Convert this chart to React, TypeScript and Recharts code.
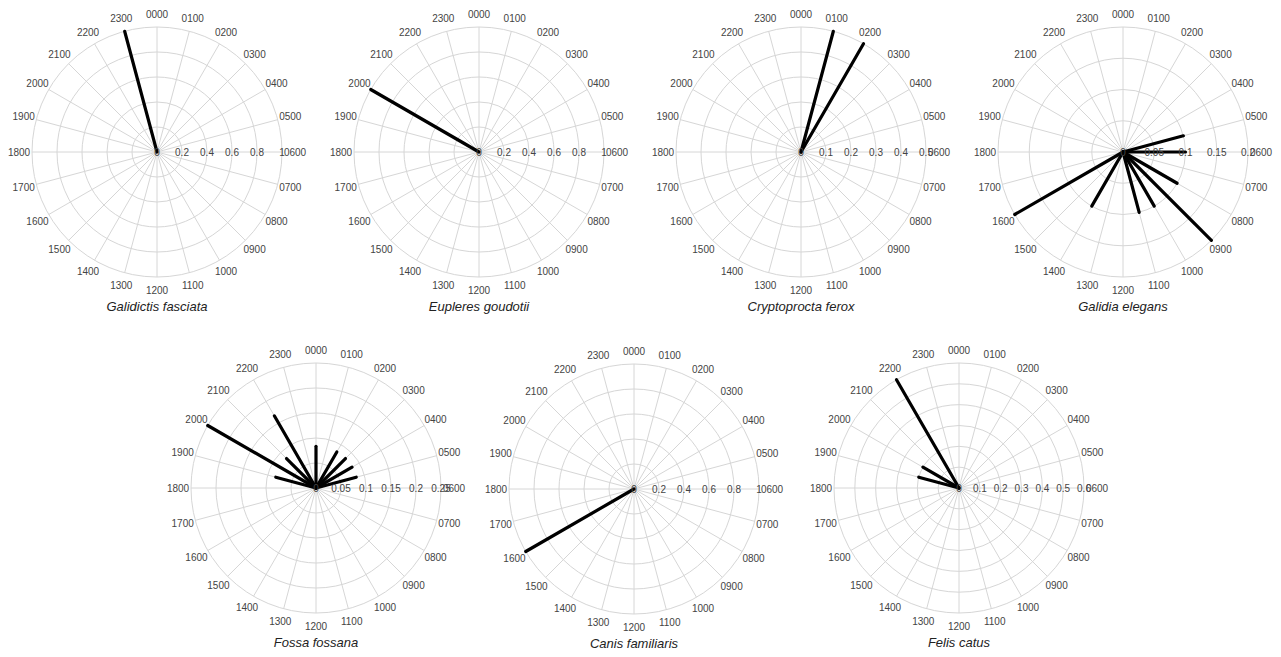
import React from 'react';
import { RadarChart, PolarGrid, PolarAngleAxis, PolarRadiusAxis, Radar } from 'recharts';

const hours = ['0000', '0100', '0200', '0300', '0400', '0500', '0600', '0700', '0800', '0900', '1000', '1100',
  '1200', '1300', '1400', '1500', '1600', '1700', '1800', '1900', '2000', '2100', '2200', '2300'];

// proportion of detections per hour (index = hour)
const galidictisFasciata = [0, 0, 0, 0, 0, 0, 0, 0, 0, 0, 0, 0, 0, 0, 0, 0, 0, 0, 0, 0, 0, 0, 0, 1];
const euplereGoudotii = [0, 0, 0, 0, 0, 0, 0, 0, 0, 0, 0, 0, 0, 0, 0, 0, 0, 0, 0, 0, 1, 0, 0, 0];
const cryptoproctaFerox = [0, 0.5, 0.5, 0, 0, 0, 0, 0, 0, 0, 0, 0, 0, 0, 0, 0, 0, 0, 0, 0, 0, 0, 0, 0];
const galidiaElegans = [0, 0, 0, 0, 0, 0.1, 0.1, 0, 0.1, 0.2, 0.1, 0.1, 0, 0, 0.1, 0, 0.2, 0, 0, 0, 0, 0, 0, 0];
const fossaFossana = [0.0833, 0, 0.0833, 0.0833, 0.0833, 0.0833, 0, 0, 0, 0, 0, 0, 0, 0, 0, 0, 0, 0, 0, 0.0833, 0.25, 0.0833, 0.1667, 0];
const canisFamiliaris = [0, 0, 0, 0, 0, 0, 0, 0, 0, 0, 0, 0, 0, 0, 0, 0, 1, 0, 0, 0, 0, 0, 0, 0];
const felisCatus = [0, 0, 0, 0, 0, 0, 0, 0, 0, 0, 0, 0, 0, 0, 0, 0, 0, 0, 0, 0.2, 0.2, 0, 0.6, 0];

const ticksUnit = [0, 0.2, 0.4, 0.6, 0.8, 1];
const ticksHalf = [0, 0.1, 0.2, 0.3, 0.4, 0.5];
const ticksGalidia = [0, 0.05, 0.1, 0.15, 0.2];
const ticksFossa = [0, 0.05, 0.1, 0.15, 0.2, 0.25];
const ticksFelis = [0, 0.1, 0.2, 0.3, 0.4, 0.5, 0.6];

const panels = [
  { name: 'Galidictis fasciata', values: galidictisFasciata, ticks: ticksUnit, cx: 157, cy: 152 },
  { name: 'Eupleres goudotii', values: euplereGoudotii, ticks: ticksUnit, cx: 479, cy: 152 },
  { name: 'Cryptoprocta ferox', values: cryptoproctaFerox, ticks: ticksHalf, cx: 801, cy: 152 },
  { name: 'Galidia elegans', values: galidiaElegans, ticks: ticksGalidia, cx: 1123, cy: 152 },
  { name: 'Fossa fossana', values: fossaFossana, ticks: ticksFossa, cx: 316, cy: 488 },
  { name: 'Canis familiaris', values: canisFamiliaris, ticks: ticksUnit, cx: 634, cy: 489 },
  { name: 'Felis catus', values: felisCatus, ticks: ticksFelis, cx: 959, cy: 488 },
];

const FONT = '"Liberation Sans", Arial, Helvetica, sans-serif';
const HALF = 160;

const SpokeShape = (props: any) => {
  const pts = props.points || [];
  return (
    <g>
      {pts.filter((p: any) => p.value > 0).map((p: any, i: number) => (
        <line key={i} x1={p.cx ?? HALF} y1={p.cy ?? HALF} x2={p.x} y2={p.y}
          stroke="#000" strokeWidth={3.2} strokeLinecap="round" />
      ))}
    </g>
  );
};

const AngleTick = (props: any) => (
  <text x={props.x} y={props.y} textAnchor="middle" dominantBaseline="central"
    fontSize={10} fontFamily={FONT} fill="#444">{props.payload.value}</text>
);

const RadiusTick = (props: any) => (
  <text x={props.x} y={props.y} textAnchor="middle" dominantBaseline="central"
    fontSize={10} fontFamily={FONT} fill="#444">{String(props.payload.value)}</text>
);

function Panel({ p }: { p: typeof panels[number] }) {
  const data = hours.map((h, i) => ({ hour: h, v: p.values[i] }));
  const max = p.ticks[p.ticks.length - 1];
  return (
    <>
      <div style={{ position: 'absolute', left: p.cx - HALF, top: p.cy - HALF, width: HALF * 2, height: HALF * 2 }}>
        <RadarChart width={HALF * 2} height={HALF * 2} data={data} cx={HALF} cy={HALF} outerRadius={125}
          startAngle={90} endAngle={-270} margin={{ top: 0, right: 0, bottom: 0, left: 0 }}>
          <PolarGrid gridType="circle" stroke="#d6d6d6" strokeWidth={1} />
          <PolarAngleAxis dataKey="hour" tickLine={false} axisLine={false} tickSize={13} tick={<AngleTick />} />
          <PolarRadiusAxis angle={0} type="number" scale="linear" domain={[0, max]} allowDataOverflow={true}
            allowDecimals={true} tickCount={p.ticks.length} ticks={p.ticks as any} axisLine={false}
            tickLine={false} tick={<RadiusTick />} />
          <Radar dataKey="v" isAnimationActive={false} fill="none" stroke="none" dot={false} shape={SpokeShape} />
        </RadarChart>
      </div>
      <div style={{ position: 'absolute', left: p.cx - 150, top: p.cy + 146, width: 300, textAlign: 'center',
        fontFamily: FONT, fontStyle: 'italic', fontSize: 13, color: '#222', lineHeight: '18px' }}>{p.name}</div>
    </>
  );
}

export default function App() {
  return (
    <div style={{ position: 'absolute', left: 0, top: 0, width: 1281, height: 657, background: '#fff', overflow: 'hidden' }}>
      {panels.map((p) => <Panel key={p.name} p={p} />)}
    </div>
  );
}
